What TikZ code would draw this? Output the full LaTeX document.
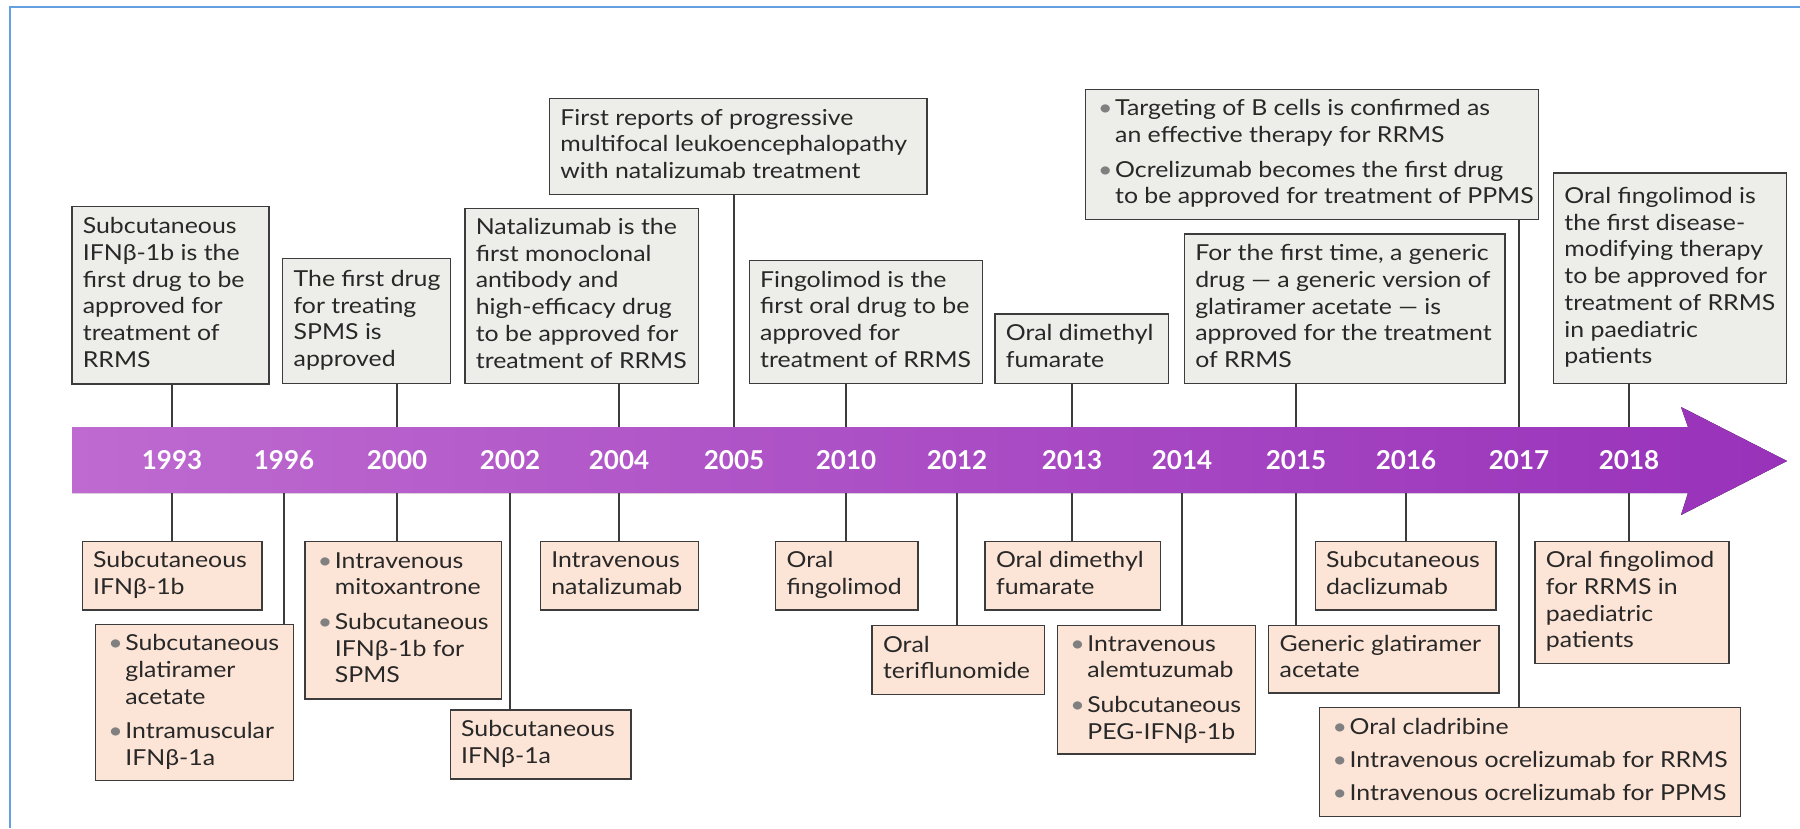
\documentclass[tikz,border=0pt]{standalone}
\usepackage{fontspec}
\setmainfont{Lato}
\newfontfamily\notefont{Lato}[FakeStretch=1.13]
\definecolor{ink}{RGB}{40,40,40}
\definecolor{edge}{RGB}{60,60,60}
\definecolor{boxgray}{RGB}{237,237,233}
\definecolor{boxpeach}{RGB}{252,228,214}
\definecolor{bandleft}{RGB}{190,106,208}
\definecolor{bandright}{RGB}{152,50,186}
\definecolor{frameblue}{RGB}{100,160,225}
\newcommand{\lns}[1]{\begin{tabular}{@{}l@{}}#1\end{tabular}}
\newcommand{\bul}{\makebox[19pt][l]{\hspace{2pt}\textcolor{gray}{\textbullet}}}
\newcommand{\hang}{\hspace*{19pt}}
\begin{document}
\begin{tikzpicture}[x={(1pt,0pt)},y={(0pt,-1pt)},
    every node/.style={font=\notefont\fontsize{22}{26.7}\selectfont,text=ink},
    note/.style={draw=edge,line width=1.3pt,anchor=north west,align=flush left,inner xsep=11pt,inner ysep=4pt},
    tbox/.style={note,fill=boxgray},
    bbox/.style={note,fill=boxpeach},
    year/.style={text=white,font=\fontsize{26}{26}\selectfont\bfseries,minimum height=66pt,inner sep=0pt},
    link/.style={draw=edge,line width=1.2pt}]
    \useasboundingbox (0,0) rectangle (1800,828);
    \draw[frameblue,line width=2pt] (10,828) -- (10,7) -- (1800,7);
    \fill[left color=bandleft,right color=bandright] (72,427) -- (1688,427) -- (1681,407) -- (1787,461) -- (1681,515) -- (1688,493) -- (72,493) -- cycle;
    \foreach \yr/\x in {1993/172,1996/284,2000/397,2002/510,2004/619,2005/734,2010/846,2012/957,2013/1072,2014/1182,2015/1296,2016/1406,2017/1519,2018/1629}
        \node[year] (y\yr) at (\x,460) {\yr};

    \node[tbox,text width=175pt,minimum height=177.6pt] (t1993) at (71.2,205.7) {\lns{Subcutaneous\\IFNβ-1b is the\\first drug to be\\approved for\\treatment of\\RRMS}};
    \node[tbox,text width=146pt,minimum height=125pt] (t2000) at (282,258) {\lns{The first drug\\for treating\\SPMS is\\approved}};
    \node[tbox,text width=211.4pt,minimum height=175.3pt] (t2004) at (464.2,207.7) {\lns{Natalizumab is the\\first monoclonal\\antibody and\\high-efficacy drug\\to be approved for\\treatment of RRMS}};
    \node[tbox,text width=355.6pt,minimum height=96.3pt] (t2005) at (548.8,97.7) {\lns{First reports of progressive\\multifocal leukoencephalopathy\\with natalizumab treatment}};
    \node[tbox,text width=211pt,minimum height=123.3pt] (t2010) at (748.5,259.7) {\lns{Fingolimod is the\\first oral drug to be\\approved for\\treatment of RRMS}};
    \node[tbox,text width=151.7pt,minimum height=69.7pt] (t2013) at (994.2,313.3) {\lns{Oral dimethyl\\fumarate}};
    \node[tbox,text width=431.4pt,minimum height=130.3pt] (t2017) at (1084.5,88.7) {\lns{\bul Targeting of B cells is confirmed as\\\hang an effective therapy for RRMS\\[8pt]\bul Ocrelizumab becomes the first drug\\\hang to be approved for treatment of PPMS}};
    \node[tbox,text width=298.6pt,minimum height=149.7pt] (t2015) at (1183.6,233.3) {\lns{For the first time, a generic\\drug — a generic version of\\glatiramer acetate — is\\approved for the treatment\\of RRMS}};
    \node[tbox,text width=210.7pt,minimum height=210.7pt] (t2018) at (1552.8,172.3) {\lns{Oral fingolimod is\\the first disease-\\modifying therapy\\to be approved for\\treatment of RRMS\\in paediatric\\patients}};

    \node[bbox,text width=157.7pt,minimum height=68.6pt] (b1993) at (81.5,540.7) {\lns{Subcutaneous\\IFNβ-1b}};
    \node[bbox,text width=176.1pt,minimum height=156pt] (b1996) at (94.7,624) {\lns{\bul Subcutaneous\\\hang glatiramer\\\hang acetate\\[8pt]\bul Intramuscular\\\hang IFNβ-1a}};
    \node[bbox,text width=174.8pt,minimum height=157.6pt] (b2000) at (304.3,540.7) {\lns{\bul Intravenous\\\hang mitoxantrone\\[8pt]\bul Subcutaneous\\\hang IFNβ-1b for\\\hang SPMS}};
    \node[bbox,text width=158.8pt,minimum height=69pt] (b2002) at (449.5,709.3) {\lns{Subcutaneous\\IFNβ-1a}};
    \node[bbox,text width=135.9pt,minimum height=68.6pt] (b2004) at (539.6,540.7) {\lns{Intravenous\\natalizumab}};
    \node[bbox,text width=120.2pt,minimum height=68.6pt] (b2010) at (775,540.7) {\lns{Oral\\fingolimod}};
    \node[bbox,text width=150.1pt,minimum height=69pt] (b2012) at (871.4,625) {\lns{Oral\\teriflunomide}};
    \node[bbox,text width=153.1pt,minimum height=68.6pt] (b2013) at (984.4,540.7) {\lns{Oral dimethyl\\fumarate}};
    \node[bbox,text width=176.1pt,minimum height=128.3pt] (b2014) at (1056.7,625) {\lns{\bul Intravenous\\\hang alemtuzumab\\[8pt]\bul Subcutaneous\\\hang PEG-IFNβ-1b}};
    \node[bbox,text width=208.2pt,minimum height=67.3pt] (b2015) at (1268,625) {\lns{Generic glatiramer\\acetate}};
    \node[bbox,text width=158.8pt,minimum height=68.6pt] (b2016) at (1314.5,540.7) {\lns{Subcutaneous\\daclizumab}};
    \node[bbox,text width=398.8pt,minimum height=109.3pt] (b2017) at (1319,706.7) {\lns{\bul Oral cladribine\\[6pt]\bul Intravenous ocrelizumab for RRMS\\[6pt]\bul Intravenous ocrelizumab for PPMS}};
    \node[bbox,text width=172.1pt,minimum height=122pt] (b2018) at (1534.3,540.7) {\lns{Oral fingolimod\\for RRMS in\\paediatric\\patients}};

    \foreach \yr in {1993,2000,2004,2005,2010,2013,2015,2017,2018}
        \draw[link] (y\yr.north) -- (y\yr.north |- t\yr.south);
    \foreach \yr in {1993,1996,2000,2002,2004,2010,2012,2013,2014,2015,2016,2017,2018}
        \draw[link] (y\yr.south) -- (y\yr.south |- b\yr.north);
\end{tikzpicture}
\end{document}
